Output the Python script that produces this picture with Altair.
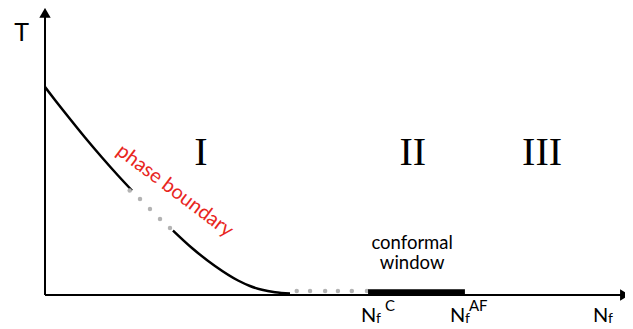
import altair as alt
import pandas as pd

# ---- data (schematic units: N_f on x, T on y) ----
upper_nf = [0, 1.72, 3.97, 6.90, 9.83, 12.59, 15.0]
upper_t = [72.47, 67.94, 62.20, 54.88, 47.91, 41.64, 36.41]
gap_nf = [14.6, 16.38, 18.10, 19.83, 21.55]
gap_t = [36.4, 33.45, 29.97, 26.48, 23.34]
lower_nf = [22.07, 25.34, 29.31, 33.28, 35.34, 37.41, 39.66, 42.24]
lower_t = [22.47, 16.38, 10.10, 5.05, 3.14, 1.81, 0.98, 0.52]
axis_dots_nf = [43.4, 45.7, 48.3, 50.5, 52.9, 55.5]
axis_dots_t = [1.4, 1.4, 1.4, 1.4, 1.4, 1.4]
window_nf = [55.7, 72.4]          # N_f^C , N_f^AF
window_t = [0.0, 2.0]
regions = ["I", "II", "III"]
region_nf = [26.9, 63.4, 85.7]
region_t = [45.3, 45.3, 45.3]

xs = alt.Scale(domain=[0, 100], nice=False, zero=False)
ys = alt.Scale(domain=[0, 100], nice=False, zero=False)


def X(f="nf"):
    return alt.X(f"{f}:Q", scale=xs, axis=None)


def Y(f="t"):
    return alt.Y(f"{f}:Q", scale=ys, axis=None)


# axes
axes_df = pd.DataFrame({"nf": [0, 0], "t": [0, 0], "nf2": [99.3, 0], "t2": [0, 97.5]})
axes = alt.Chart(axes_df).mark_rule(color="black", strokeWidth=2).encode(
    x=X(), y=Y(), x2="nf2:Q", y2="t2:Q")

heads_df = pd.DataFrame({"nf": [100, 0], "t": [0, 98.3],
                         "shape": ["triangle-right", "triangle-up"]})
heads = alt.Chart(heads_df).mark_point(filled=True, color="black", opacity=1, size=130).encode(
    x=X(), y=Y(), shape=alt.Shape("shape:N", scale=None, legend=None))

# phase boundary curve
curve_df = pd.DataFrame({
    "nf": upper_nf + lower_nf,
    "t": upper_t + lower_t,
    "seg": ["a"] * len(upper_nf) + ["b"] * len(lower_nf),
})
curve = alt.Chart(curve_df).mark_line(color="black", strokeWidth=2.5,
                                      interpolate="monotone").encode(
    x=X(), y=Y(), detail="seg:N")

dots_df = pd.DataFrame({"nf": gap_nf + axis_dots_nf, "t": gap_t + axis_dots_t})
dots = alt.Chart(dots_df).mark_circle(color="#b3b3b3", opacity=1, size=20).encode(x=X(), y=Y())

# conformal window bar
win_df = pd.DataFrame({"nf": [window_nf[0]], "nf2": [window_nf[1]],
                       "t": [window_t[0]], "t2": [window_t[1]]})
win = alt.Chart(win_df).mark_rect(color="black").encode(x=X(), x2="nf2:Q", y=Y(), y2="t2:Q")

# region labels
reg_df = pd.DataFrame({"nf": region_nf, "t": region_t, "label": regions})
reg = alt.Chart(reg_df).mark_text(font="Liberation Serif", fontSize=40, color="black",
                                  align="center", baseline="alphabetic").encode(
    x=X(), y=Y(), text="label:N")


def label(text, nf, t, size, color="black", font="Lato", align="left",
          baseline="alphabetic", angle=0, dx=0):
    df = pd.DataFrame({"nf": [nf], "t": [t], "label": [text]})
    kw = dict(font=font, fontSize=size, color=color, align=align, baseline=baseline, dx=dx)
    if angle:
        kw["angle"] = angle
    return alt.Chart(df).mark_text(**kw).encode(x=X(), y=Y(), text="label:N")


N_T, F_T, SUP_T = -9.4, -9.8, -5.6

texts = [
    label("T", -4.05, 88.6, 25, align="center"),
    label("phase boundary", 22.4, 36.3, 20, color="#e8261e", align="center",
          baseline="middle", angle=37),
    label("conformal", 63.3, 16.0, 18.5, align="center"),
    label("window", 63.3, 9.2, 18.5, align="center"),
    # N_f^C
    label("N", window_nf[0], N_T, 20, dx=-7),
    label("f", window_nf[0], F_T, 14, dx=8),
    label("C", window_nf[0], SUP_T, 15, dx=17),
    # N_f^AF
    label("N", window_nf[1], N_T, 20, dx=-15),
    label("f", window_nf[1], F_T, 14, dx=0),
    label("AF", window_nf[1], SUP_T, 15, dx=4),
    # N_f on the axis
    label("N", 100, N_T, 20, dx=-32),
    label("f", 100, F_T, 14, dx=-17),
]

chart = alt.layer(axes, heads, curve, dots, win, reg, *texts).properties(
    width=580, height=287,
    padding={"left": 37, "top": 0, "right": 0, "bottom": 32},
    autosize="none",
    background="white",
).configure_view(stroke=None)

chart.save("out.html", embed_options={"renderer": "svg", "actions": False})
